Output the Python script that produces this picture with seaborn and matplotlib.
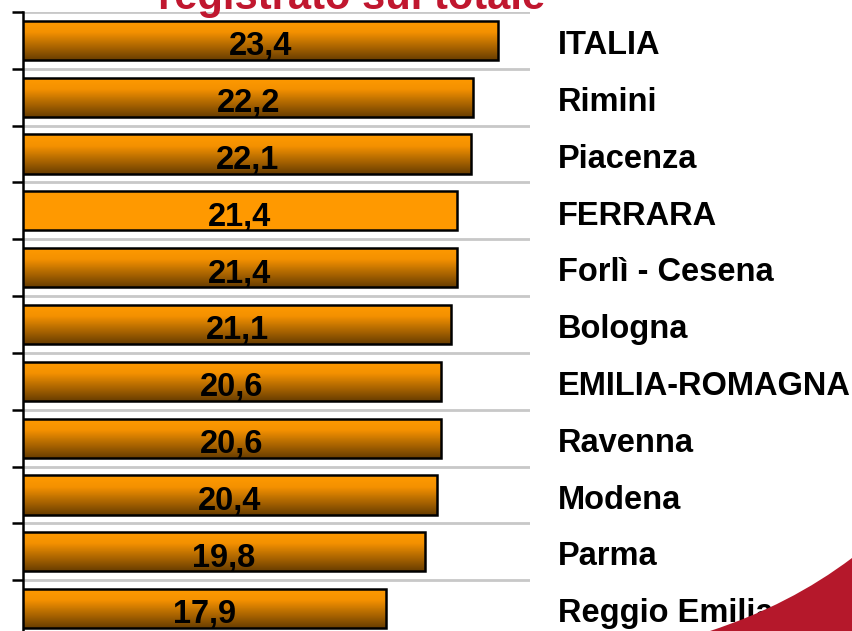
import numpy as np
import pandas as pd
import seaborn as sns
import matplotlib.pyplot as plt
from matplotlib.colors import LinearSegmentedColormap
from matplotlib.patches import PathPatch
from matplotlib.path import Path
import matplotlib.transforms as mtransforms

sns.set_theme(style='white')
plt.rcParams['font.family'] = ['Liberation Sans', 'DejaVu Sans']

areas = ['ITALIA', 'Rimini', 'Piacenza', 'FERRARA', 'Forlì - Cesena', 'Bologna',
         'EMILIA-ROMAGNA', 'Ravenna', 'Modena', 'Parma', 'Reggio Emilia']
values = [23.4, 22.2, 22.1, 21.4, 21.4, 21.1, 20.6, 20.6, 20.4, 19.8, 17.9]
highlight = 'FERRARA'

df = pd.DataFrame({'area': areas, 'value': values})

fig = plt.figure(figsize=(8.52, 6.31), dpi=100)
ax = fig.add_axes([23 / 852, -6 / 631, 507 / 852, 625 / 631])

sns.barplot(data=df, y='area', x='value', orient='h', color='#FF9900',
            saturation=1, width=0.69, edgecolor='black', linewidth=1.8,
            ax=ax, zorder=3)

# gradient fill on every bar except the highlighted one
cmap = LinearSegmentedColormap.from_list(
    'orange_grad', [(0, '#FF9A00'), (0.3, '#F49100'), (1, '#6A3E00')])
grad = np.linspace(0, 1, 64).reshape(-1, 1)
for patch, name in zip(ax.patches, areas):
    if name == highlight:
        continue
    x0, y0 = patch.get_x(), patch.get_y()
    w, h = patch.get_width(), patch.get_height()
    im = ax.imshow(grad, cmap=cmap, aspect='auto', origin='upper',
                   extent=(x0, x0 + w, y0 + h, y0), zorder=3.5)
    im.set_clip_path(patch)
    patch.set_zorder(4)
    patch.set_facecolor('none')

ax.set_xlim(0, 25)
ax.set_ylim(10.5, -0.5)

# value labels in the middle of each bar
for i, v in enumerate(values):
    ax.text(v / 2, i + 0.05, f'{v:.1f}'.replace('.', ','), ha='center',
            va='center_baseline', fontsize=23.5, fontweight='bold',
            color='black', zorder=6)

# category names to the right
trans = mtransforms.blended_transform_factory(ax.transAxes, ax.transData)
for i, name in enumerate(areas):
    ax.text(1.055, i + 0.03, name, transform=trans, ha='left',
            va='center_baseline', fontsize=23.5, fontweight='bold',
            color='black', clip_on=False)

# grid lines and ticks at category boundaries
bounds = np.arange(-0.5, len(areas), 1.0)
ax.set_yticks(bounds)
ax.set_yticklabels([])
ax.set_xticks([])
ax.set_ylabel('')
ax.set_xlabel('')
ax.grid(axis='y', color='#C8C8C8', linewidth=2, zorder=0)
ax.tick_params(axis='y', direction='out', length=8, width=1.8, color='black', left=True)
for side in ['top', 'right', 'bottom']:
    ax.spines[side].set_visible(False)
ax.spines['left'].set_color('black')
ax.spines['left'].set_linewidth(1.8)

# title, cut off at the top as in the source slide
fig.text(352 / 852, 1 - 9 / 631, 'registrato sul totale', ha='center', va='baseline',
         fontsize=30, fontweight='bold', color='#C0172F')

# red corner decoration
verts = [(710, 631), (790, 605), (852, 558), (852, 631), (710, 631)]
codes = [Path.MOVETO, Path.CURVE3, Path.CURVE3, Path.LINETO, Path.CLOSEPOLY]
verts = [(x / 852, 1 - y / 631) for x, y in verts]
fig.patches.append(PathPatch(Path(verts, codes), transform=fig.transFigure,
                             facecolor='#B5182B', edgecolor='none', zorder=0))

fig.savefig('out.png', dpi=100)
